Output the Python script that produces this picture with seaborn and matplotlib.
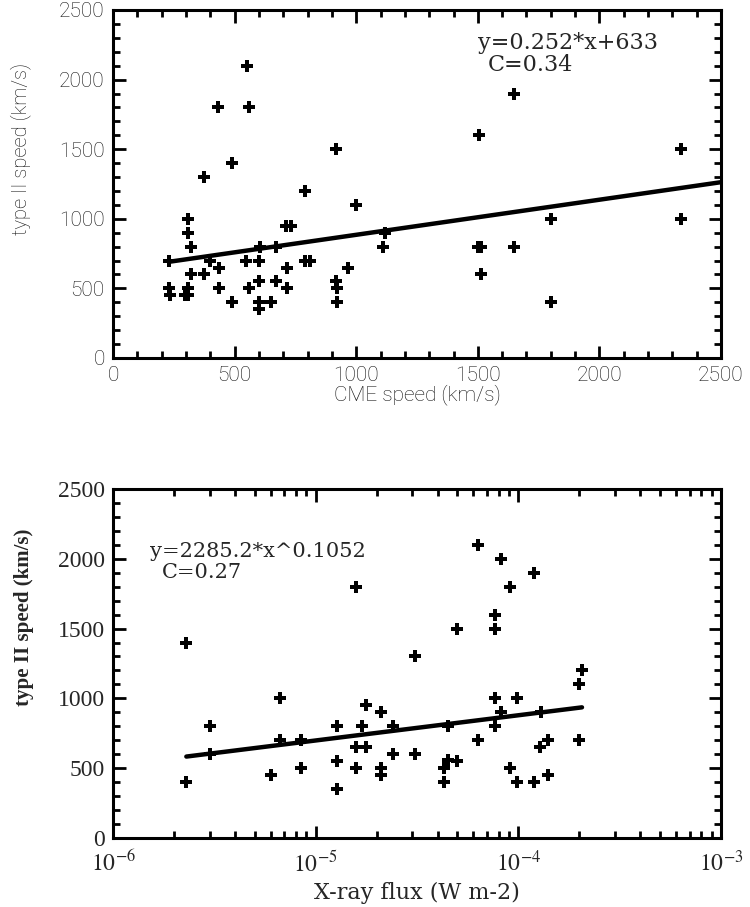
import numpy as np
import pandas as pd
import matplotlib
matplotlib.use("Agg")
import matplotlib.pyplot as plt
import seaborn as sns
from matplotlib.ticker import MultipleLocator, LogLocator, NullFormatter, FixedLocator

# ---- data ----
cme_speed = [550, 430, 560, 490, 375, 915, 790, 1000, 710, 730, 310, 310, 320, 230, 400,
             435, 545, 600, 605, 670, 790, 810, 715, 375, 320, 230, 235, 295, 310, 310,
             435, 490, 560, 600, 600, 600, 650, 670, 715, 965, 915, 920, 920, 1110, 1120,
             1650, 1505, 2335, 1800, 2335, 1500, 1515, 1650, 1515, 1800]
type2_speed_a = [2100, 1800, 1800, 1400, 1300, 1500, 1200, 1100, 950, 950, 1000, 900, 800, 700, 700,
                 650, 700, 700, 800, 800, 700, 700, 650, 600, 600, 500, 450, 450, 500, 450,
                 500, 400, 500, 550, 400, 350, 400, 550, 500, 650, 550, 500, 400, 800, 900,
                 1900, 1600, 1500, 1000, 1000, 800, 800, 800, 600, 400]

xray_flux = [2.3e-6, 2.3e-6, 3.0e-6, 3.0e-6, 6.7e-6, 6.7e-6, 6.0e-6, 8.5e-6, 8.5e-6, 1.28e-5,
             1.28e-5, 1.28e-5, 1.58e-5, 1.58e-5, 1.58e-5, 1.7e-5, 1.77e-5, 1.77e-5, 2.1e-5, 2.1e-5,
             2.1e-5, 2.4e-5, 2.4e-5, 3.1e-5, 3.1e-5, 6.3e-5, 8.2e-5, 1.2e-4, 9.1e-5, 7.7e-5,
             7.7e-5, 5.0e-5, 2.06e-4, 2.0e-4, 2.0e-4, 7.7e-5, 9.9e-5, 8.2e-5, 7.7e-5, 1.3e-4,
             4.5e-5, 6.3e-5, 1.4e-4, 1.28e-4, 4.5e-5, 5.0e-5, 4.3e-5, 4.3e-5, 9.1e-5, 9.9e-5,
             1.2e-4, 1.4e-4]
type2_speed_b = [1400, 400, 800, 600, 1000, 700, 450, 700, 500, 800,
                 550, 350, 1800, 650, 500, 800, 650, 950, 900, 500,
                 450, 800, 600, 1300, 600, 2100, 2000, 1900, 1800, 1600,
                 1500, 1500, 1200, 1100, 700, 1000, 1000, 900, 800, 900,
                 800, 700, 700, 650, 560, 550, 500, 400, 500, 400,
                 400, 450]

lin_slope, lin_intercept, lin_corr = 0.252, 633, 0.34
pow_coef, pow_exp, pow_corr = 2285.2, 0.1052, 0.27

xticks_a = [0, 500, 1000, 1500, 2000, 2500]
yticks = [0, 500, 1000, 1500, 2000, 2500]
xticks_b = [1e-6, 1e-5, 1e-4, 1e-3]
xticklabels_b = [r"$10^{-6}$", r"$10^{-5}$", r"$10^{-4}$", r"$10^{-3}$"]

# ---- styling ----
sns.set_style("ticks")
plt.rcParams["font.family"] = ["DejaVu Sans"]
plt.rcParams["mathtext.fontset"] = "stix"

SANS = ["Roboto", "DejaVu Sans"]
SERIF = ["Liberation Serif", "DejaVu Serif"]
WSERIF = ["DejaVu Serif"]

fig = plt.figure(figsize=(7.5, 9.07), dpi=100)
ax1 = fig.add_axes([0.1507, 0.6053, 0.8107, 0.3837])
ax2 = fig.add_axes([0.1507, 0.0761, 0.8107, 0.3848])

df_a = pd.DataFrame({"cme": cme_speed, "t2": type2_speed_a})
df_b = pd.DataFrame({"flux": xray_flux, "t2": type2_speed_b})

mk = dict(marker="P", s=66, color="black", linewidth=0, legend=False)
sns.scatterplot(data=df_a, x="cme", y="t2", ax=ax1, **mk)
sns.scatterplot(data=df_b, x="flux", y="t2", ax=ax2, **mk)

# fit lines from the printed equations
fx_a = np.array([min(cme_speed), 2500])
fit_a = pd.DataFrame({"x": fx_a, "y": lin_slope * fx_a + lin_intercept})
sns.lineplot(data=fit_a, x="x", y="y", ax=ax1, color="black", linewidth=3.2)

fx_b = np.array([min(xray_flux), max(xray_flux)])
fit_b = pd.DataFrame({"x": fx_b, "y": pow_coef * fx_b ** pow_exp})
sns.lineplot(data=fit_b, x="x", y="y", ax=ax2, color="black", linewidth=3.2)

for ax in (ax1, ax2):
    for sp in ax.spines.values():
        sp.set_visible(True)
        sp.set_linewidth(2.2)
        sp.set_color("black")
    ax.set_ylim(0, 2500)
    ax.set_yticks(yticks)
    ax.yaxis.set_minor_locator(MultipleLocator(100))
    ax.tick_params(which="both", direction="in", top=True, right=True,
                   width=2.0, color="black", pad=6)
    ax.tick_params(which="major", length=9)
    ax.tick_params(which="minor", length=5)

# top panel
ax1.set_xlim(0, 2500)
ax1.set_xticks(xticks_a)
ax1.xaxis.set_minor_locator(MultipleLocator(100))
for lab in ax1.get_xticklabels() + ax1.get_yticklabels():
    lab.set_family(SANS)
    lab.set_fontweight("light")
    lab.set_fontsize(15)
    lab.set_color("#111111")
ax1.set_xlabel("CME speed (km/s)", family=SANS, fontweight="light", fontsize=15,
               color="#111111")
ax1.xaxis.set_label_coords(0.5, -0.075)
ax1.set_ylabel("type II speed (km/s)", family=SANS, fontweight="light", fontsize=14.5,
               color="#111111")
ax1.yaxis.set_label_coords(-0.135, 0.60)
ax1.text(0.748, 0.905, f"y={lin_slope}*x+{lin_intercept}", transform=ax1.transAxes,
         family=WSERIF, fontsize=16, ha="center", va="center")
ax1.text(0.686, 0.842, f"C={lin_corr}", transform=ax1.transAxes,
         family=WSERIF, fontsize=16, ha="center", va="center")

# bottom panel
ax2.set_xscale("log")
ax2.set_xlim(1e-6, 1e-3)
ax2.xaxis.set_major_locator(FixedLocator(xticks_b))
ax2.set_xticklabels(xticklabels_b)
ax2.xaxis.set_minor_locator(LogLocator(base=10, subs=np.arange(2, 10)))
ax2.xaxis.set_minor_formatter(NullFormatter())
for lab in ax2.get_xticklabels() + ax2.get_yticklabels():
    lab.set_family(SERIF)
    lab.set_fontsize(17)
ax2.tick_params(axis="x", which="major", pad=9)
ax2.set_xlabel("X-ray flux (W m-2)", family=WSERIF, fontsize=16)
ax2.xaxis.set_label_coords(0.5, -0.125)
ax2.set_ylabel("type II speed (km/s)", family=SERIF, fontsize=15, fontweight="bold")
ax2.yaxis.set_label_coords(-0.13, 0.633)
ax2.text(0.061, 0.822, f"y={pow_coef}*x^{pow_exp}", transform=ax2.transAxes,
         family=WSERIF, fontsize=15, ha="left", va="center")
ax2.text(0.081, 0.760, f"C={pow_corr}", transform=ax2.transAxes,
         family=WSERIF, fontsize=15, ha="left", va="center")

fig.savefig("out.png", dpi=100)
